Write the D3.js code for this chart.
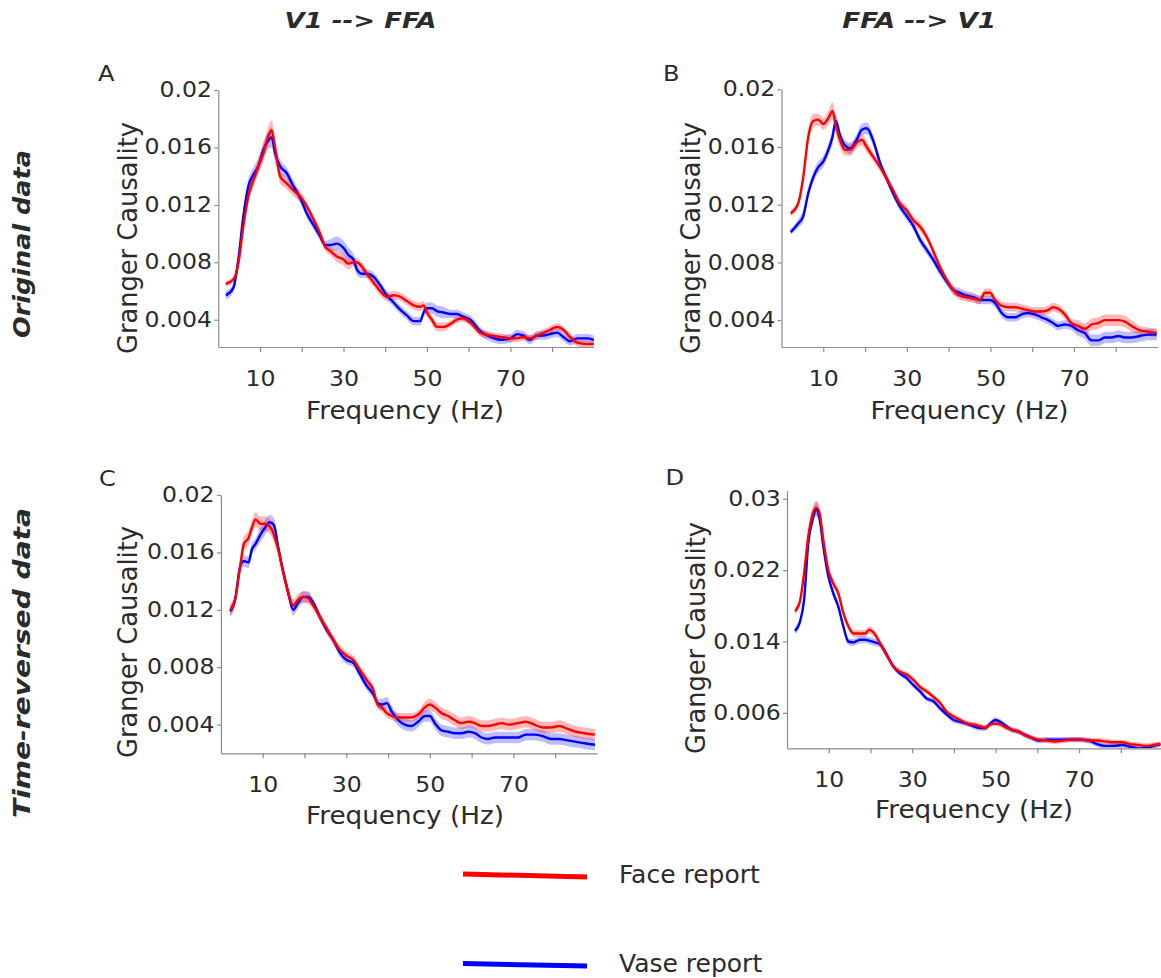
<!DOCTYPE html>
<html>
<head>
<meta charset="utf-8">
<script src="https://cdn.jsdelivr.net/npm/d3@7"></script>
<style>
  html, body { margin: 0; padding: 0; background: #fff; }
  svg { display: block; }
</style>
</head>
<body>
<script>
// ---------------- DATA ----------------
const columnTitles = ["V1 --> FFA", "FFA --> V1"];
const rowTitles = ["Original data", "Time-reversed data"];
const panelLetters = ["A", "B", "C", "D"];
const legendLabels = ["Face report", "Vase report"];
const xAxisTitle = "Frequency (Hz)";
const yAxisTitle = "Granger Causality";

const xTicks = [10, 20, 30, 40, 50, 60, 70, 80];
const xTickLabels = ["10", "", "30", "", "50", "", "70", ""];
const yTicksABC = [0.004, 0.008, 0.012, 0.016, 0.02];
const yTickLabelsABC = ["0.004", "0.008", "0.012", "0.016", "0.02"];
const yTicksD = [0.006, 0.014, 0.022, 0.03];
const yTickLabelsD = ["0.006", "0.014", "0.022", "0.03"];

// Panel A : V1 --> FFA, original
const freqA = [1.8,3.6,4.8,6,7.2,8.4,9.6,10.8,12,12.8,
  13.6,14.8,16.4,18,19.6,21.2,22.8,24.4,25.6,26.8,
  28.4,30,31.2,32.4,33.2,34.4,35.6,37.2,38.8,40.4,
  42,43.6,45.2,46.8,48.4,49.2,50,51.2,52.4,54,
  55.6,57.2,58.8,60.4,62.8,65.2,67.6,70,71.6,73.1,
  74.7,76.4,78,79.5,81.2,82.7,84.3,86,88.3,90];
const faceA = [.0065,.0068,.0079,.0105,.0126,.0137,.0147,.0156,.0168,.0172,
  .0160,.0140,.0135,.0130,.0126,.0119,.0110,.0100,.0091,.0088,
  .0084,.0082,.0079,.0080,.0080,.0077,.0072,.0066,.0060,.0056,
  .0057,.0056,.0053,.0050,.0049,.0050,.0045,.0040,.0035,.0035,
  .0037,.0040,.0041,.0038,.0031,.0029,.0028,.0027,.0027,.0028,
  .0027,.0029,.0031,.0033,.0035,.0033,.0028,.0024,.0023,.0023];
const vaseA = [.0057,.0062,.0082,.0112,.0133,.0141,.0147,.0158,.0165,.0167,
  .0156,.0147,.0142,.0133,.0125,.0114,.0106,.0098,.0092,.0092,
  .0093,.0090,.0085,.0082,.0075,.0072,.0072,.0070,.0064,.0057,
  .0052,.0047,.0043,.0039,.0039,.0045,.0048,.0048,.0046,.0045,
  .0044,.0044,.0042,.0040,.0032,.0028,.0026,.0027,.0030,.0029,
  .0026,.0029,.0029,.0030,.0031,.0028,.0025,.0027,.0027,.0026];
const semFaceA = [.0002,.0002,.0003,.0004,.0005,.0005,.0005,.0006,.0007,.0007,
  .0006,.0005,.0004,.0004,.0004,.0003,.0003,.0003,.0003,.0003,
  .0004,.0004,.0004,.0003,.0003,.0003,.0003,.0003,.0003,.0003,
  .0003,.0003,.0003,.0003,.0003,.0003,.0003,.0003,.0003,.0003,
  .00025,.00025,.00025,.00025,.00025,.00025,.00025,.00025,.00025,.00025,
  .00025,.00025,.00025,.00025,.00025,.00025,.00025,.00025,.00025,.00025];
const semVaseA = [.0003,.0003,.0003,.0004,.0005,.0005,.0006,.0006,.0006,.0007,
  .0006,.0005,.0004,.0004,.0003,.0003,.0003,.0003,.0003,.0004,
  .0005,.0005,.0005,.0004,.0004,.0003,.0003,.0003,.0003,.0003,
  .0003,.0003,.0003,.0003,.0003,.0003,.0004,.0004,.0004,.0004,
  .0003,.0003,.0003,.0003,.0003,.0003,.0003,.0003,.0003,.0003,
  .0003,.0003,.0003,.0003,.0003,.0003,.0003,.0003,.0003,.0003];

// Panel B : FFA --> V1, original
const freqB = [2.2,4,5.2,6.4,7.6,8.8,10,11.2,12.2,13,
  14,15.2,16.4,18,19.2,20.4,22,23.6,25.2,26.7,
  28.3,30,31.6,33.1,34.7,36.3,37.9,39.5,41.1,42.7,
  44.3,45.9,47.5,48.7,49.9,51.1,52.7,54.3,55.9,57.5,
  59,60.6,62.2,63.8,65,66.2,67.8,69.4,71,72.6,
  74.2,75.8,77.4,79,80.6,82.2,83.8,85.8,87.8,89.8];
const faceB = [.0114,.0121,.0139,.0167,.0178,.0179,.0176,.0180,.0185,.0175,
  .0165,.0158,.0158,.0163,.0165,.0160,.0153,.0146,.0138,.0130,
  .0121,.0116,.0109,.0105,.0098,.0088,.0077,.0068,.0061,.0057,
  .0056,.0055,.0054,.0059,.0059,.0054,.0050,.0049,.0049,.0048,
  .0047,.0046,.0046,.0047,.0049,.0048,.0044,.0038,.0036,.0034,
  .0037,.0038,.0040,.0040,.0040,.0039,.0036,.0033,.0032,.0031];
const vaseB = [.0101,.0107,.0112,.0128,.0139,.0146,.0150,.0158,.0167,.0178,
  .0168,.0161,.0159,.0165,.0172,.0173,.0164,.0149,.0138,.0128,
  .0119,.0112,.0105,.0096,.0089,.0082,.0074,.0067,.0061,.0059,
  .0057,.0056,.0054,.0054,.0054,.0052,.0045,.0042,.0042,.0044,
  .0045,.0044,.0042,.0040,.0038,.0036,.0037,.0036,.0033,.0031,
  .0026,.0026,.0028,.0028,.0029,.0028,.0028,.0029,.0030,.0030];
const semFaceB = [.0002,.0003,.0004,.0005,.0005,.0004,.0004,.0005,.0006,.0006,
  .0005,.0004,.0004,.0004,.0004,.0004,.0003,.0003,.0003,.0003,
  .0003,.0003,.0003,.0003,.0003,.0003,.0003,.0003,.0003,.0003,
  .0003,.0003,.0003,.0003,.0003,.0003,.0003,.0003,.0003,.0003,
  .0003,.0003,.0003,.0003,.0003,.0003,.0003,.0003,.0004,.0004,
  .0004,.0004,.0004,.0004,.0004,.0004,.0004,.0003,.0003,.0003];
const semVaseB = [.0002,.0003,.0004,.0004,.0004,.0004,.0004,.0004,.0005,.0005,
  .0004,.0004,.0004,.0004,.0004,.0004,.0004,.0003,.0003,.0003,
  .0003,.0003,.0003,.0003,.0003,.0003,.0003,.0003,.0003,.0003,
  .0003,.0003,.0003,.0003,.0003,.0003,.0003,.0003,.0003,.0003,
  .0003,.0003,.0003,.0003,.0003,.0003,.0003,.0003,.0004,.0004,
  .0004,.0004,.0004,.0004,.0004,.0004,.0004,.0004,.0004,.0004];

// Panel C : V1 --> FFA, time-reversed
const freqC = [2.2,3.4,4.6,5.5,6.6,7.4,8.3,9.4,10.5,11.7,
  12.7,13.7,14.9,16.1,17.3,18.5,19.7,20.9,22.1,23.7,
  25.3,26.9,28.5,30.1,31.7,33.3,34.9,36.5,37.5,38.5,
  39.7,40.9,42.5,44,45.6,47.2,48.8,50,51.2,52.8,
  54.4,56,57.6,59.2,60.8,62.4,64,65.6,67.2,68.8,
  71,73,75,77,79,81,83,85,87,89.5];
const faceC = [.0120,.0127,.0150,.0166,.0170,.0177,.0183,.0180,.0180,.0178,
  .0172,.0162,.0146,.0132,.0123,.0127,.0129,.0128,.0123,.0115,
  .0107,.0099,.0092,.0088,.0085,.0078,.0071,.0064,.0054,.0052,
  .0048,.0046,.0045,.0045,.0045,.0047,.0052,.0054,.0052,.0048,
  .0046,.0043,.0041,.0042,.0041,.0039,.0039,.0040,.0041,.0040,
  .0041,.0042,.0040,.0038,.0038,.0039,.0037,.0035,.0034,.0033];
const vaseC = [.0119,.0127,.0150,.0154,.0153,.0162,.0166,.0172,.0177,.0181,
  .0179,.0164,.0147,.0132,.0120,.0125,.0129,.0129,.0125,.0115,
  .0106,.0099,.0090,.0085,.0083,.0075,.0067,.0061,.0055,.0054,
  .0055,.0049,.0043,.0040,.0039,.0042,.0046,.0046,.0041,.0036,
  .0035,.0034,.0034,.0035,.0034,.0031,.0030,.0031,.0031,.0031,
  .0031,.0033,.0033,.0032,.0030,.0030,.0029,.0028,.0027,.0026];
const semFaceC = [.0004,.0004,.0005,.0005,.0005,.0005,.0005,.0005,.0005,.0005,
  .0005,.0004,.0004,.0004,.0004,.0004,.0004,.0004,.0003,.0003,
  .0003,.0003,.0003,.0003,.0003,.0003,.0003,.0003,.0003,.0003,
  .0003,.0003,.0003,.0003,.0003,.0003,.0004,.0004,.0004,.0004,
  .0004,.0004,.0004,.0004,.0004,.0004,.0004,.0004,.0004,.0004,
  .0004,.0004,.0004,.0004,.0004,.0004,.0004,.0004,.0004,.0004];
const semVaseC = [.0004,.0004,.0004,.0004,.0004,.0004,.0004,.0005,.0005,.0005,
  .0005,.0004,.0004,.0004,.0004,.0004,.0004,.0004,.0003,.0003,
  .0003,.0003,.0003,.0003,.0003,.0003,.0003,.0003,.0003,.0004,
  .0004,.0004,.0004,.0004,.0004,.0004,.0004,.0004,.0004,.0004,
  .0004,.0004,.0004,.0004,.0004,.0004,.0004,.0004,.0004,.0004,
  .0004,.0004,.0004,.0004,.0004,.0004,.0004,.0004,.0004,.0004];

// Panel D : FFA --> V1, time-reversed
const freqD = [1.9,3.1,4.1,5.1,6.2,7,7.8,8.7,9.9,11.1,
  12.3,13.5,14.7,15.9,17.5,18.7,19.7,21.1,22.3,23.9,
  25.5,27.1,28.7,30.3,31.9,33.5,35.1,36.7,38.3,39.9,
  41.5,43.1,44.7,46.3,47.5,48.7,49.9,51.1,52.3,53.9,
  55.5,57.1,58.7,60.3,62.3,64.3,66.3,68.3,70.3,72.3,
  74.3,76.3,78.3,80.3,82.3,84.3,86.3,87.9,89.5];
const faceD = [.0174,.0185,.0217,.0258,.0284,.0290,.0284,.0254,.0220,.0205,
  .0194,.0172,.0157,.0149,.0149,.0149,.0153,.0148,.0138,.0125,
  .0112,.0106,.0103,.0097,.0089,.0084,.0078,.0071,.0061,.0056,
  .0052,.0048,.0047,.0045,.0043,.0047,.0048,.0047,.0044,.0041,
  .0039,.0035,.0032,.0030,.0029,.0028,.0029,.0030,.0030,.0029,
  .0029,.0028,.0027,.0027,.0025,.0024,.0023,.0024,.0025];
const vaseD = [.0152,.0162,.0187,.0250,.0278,.0288,.0278,.0247,.0213,.0194,
  .0179,.0157,.0140,.0139,.0142,.0142,.0141,.0139,.0137,.0125,
  .0112,.0104,.0099,.0091,.0084,.0076,.0073,.0065,.0058,.0052,
  .0050,.0048,.0045,.0043,.0043,.0048,.0052,.0050,.0046,.0041,
  .0039,.0035,.0032,.0029,.0030,.0030,.0030,.0030,.0030,.0029,
  .0025,.0023,.0023,.0024,.0022,.0020,.0021,.0023,.0025];
const semFaceD = [.0004,.0004,.0005,.0006,.0007,.0008,.0007,.0006,.0005,.0005,
  .0004,.0004,.0004,.0004,.0004,.0004,.0004,.0004,.0004,.0004,
  .0003,.0003,.0003,.0003,.0003,.0003,.0003,.0003,.0003,.0003,
  .0003,.0003,.0003,.0003,.0003,.0003,.0003,.0003,.0003,.0003,
  .0003,.0003,.0003,.0003,.0003,.0003,.0003,.0003,.0003,.0003,
  .0003,.0003,.0003,.0003,.0003,.0003,.0003,.0003,.0003];
const semVaseD = [.0004,.0004,.0005,.0006,.0007,.0008,.0007,.0006,.0005,.0005,
  .0004,.0004,.0004,.0004,.0004,.0004,.0004,.0004,.0004,.0004,
  .0003,.0003,.0003,.0003,.0003,.0003,.0003,.0003,.0003,.0003,
  .0003,.0003,.0003,.0003,.0003,.0003,.0003,.0003,.0003,.0003,
  .0003,.0003,.0003,.0003,.0003,.0003,.0003,.0003,.0003,.0003,
  .0003,.0003,.0003,.0003,.0003,.0003,.0003,.0003,.0003];

const seriesColors = ["#ff0000", "#0000ff"];          // Face, Vase
const bandColors = ["rgba(255,0,0,0.28)", "rgba(0,0,255,0.26)"];

// ---------------- LAYOUT ----------------
const W = 1161, H = 978;
const FONT = "'DejaVu Sans', Verdana, sans-serif";
const TEXT = "#2b2b2b";
const AXIS = "#8c8c8c";

const panels = [
  { letter: panelLetters[0], freq: freqA, face: faceA, vase: vaseA, semF: semFaceA, semV: semVaseA,
    yDomain: [0.0021, 0.02], yTicks: yTicksABC, yLabels: yTickLabelsABC,
    x0: 218.3, x1: 593.8, yTop: 90, yBot: 347,
    letterPos: [98, 81], ylab: [137, 238], xlab: [405, 419.3] },
  { letter: panelLetters[1], freq: freqB, face: faceB, vase: vaseB, semF: semFaceB, semV: semVaseB,
    yDomain: [0.00214, 0.02], yTicks: yTicksABC, yLabels: yTickLabelsABC,
    x0: 781.5, x1: 1157.5, yTop: 89.3, yBot: 347,
    letterPos: [663, 81], ylab: [699.5, 238], xlab: [969.5, 419.3] },
  { letter: panelLetters[2], freq: freqC, face: faceC, vase: vaseC, semF: semFaceC, semV: semVaseC,
    yDomain: [0.002, 0.02], yTicks: yTicksABC, yLabels: yTickLabelsABC,
    x0: 220.9, x1: 597, yTop: 495, yBot: 753.3,
    letterPos: [99, 486], ylab: [137, 642], xlab: [405, 824.3] },
  { letter: panelLetters[3], freq: freqD, face: faceD, vase: vaseD, semF: semFaceD, semV: semVaseD,
    yDomain: [0.00203, 0.0309], yTicks: yTicksD, yLabels: yTickLabelsD,
    x0: 787, x1: 1162.5, yTop: 490.7, yBot: 748.3,
    letterPos: [665.5, 485], ylab: [705, 638], xlab: [974, 818.3] }
];

const svg = d3.select("body").append("svg")
  .attr("width", W).attr("height", H)
  .attr("font-family", FONT);

// Column titles
const titleX = [360.5, 919.2];
columnTitles.forEach((t, i) => {
  svg.append("text")
    .attr("x", titleX[i]).attr("y", 28.3)
    .attr("text-anchor", "middle")
    .attr("font-size", 21.5).attr("font-weight", "bold").attr("font-style", "italic")
    .attr("fill", TEXT)
    .attr("textLength", i === 0 ? 152 : 154).attr("lengthAdjust", "spacingAndGlyphs")
    .text(t);
});

// Row titles
const rowY = [244, 663];
const rowLen = [188, 310];
rowTitles.forEach((t, i) => {
  svg.append("text")
    .attr("transform", `translate(30,${rowY[i]}) rotate(-90)`)
    .attr("text-anchor", "middle")
    .attr("font-size", 23).attr("font-weight", "bold").attr("font-style", "italic")
    .attr("fill", TEXT)
    .attr("textLength", rowLen[i]).attr("lengthAdjust", "spacingAndGlyphs")
    .text(t);
});

panels.forEach((p, pi) => {
  const x = d3.scaleLinear().domain([0, 90]).range([p.x0, p.x1]);
  const y = d3.scaleLinear().domain(p.yDomain).range([p.yBot, p.yTop]);
  const g = svg.append("g");

  const clipId = "clip" + pi;
  svg.append("clipPath").attr("id", clipId)
    .append("rect")
    .attr("x", p.x0).attr("y", p.yTop - 20)
    .attr("width", p.x1 - p.x0 + 4).attr("height", p.yBot - p.yTop + 20);

  const plot = g.append("g").attr("clip-path", `url(#${clipId})`);

  const seriesList = [
    { m: p.face, s: p.semF, color: seriesColors[0], band: bandColors[0] },
    { m: p.vase, s: p.semV, color: seriesColors[1], band: bandColors[1] }
  ];
  const rows = seriesList.map(sr => p.freq.map((f, k) => ({ f, m: sr.m[k], s: sr.s[k] })));

  const area = d3.area()
    .x(d => x(d.f)).y0(d => y(d.m - d.s)).y1(d => y(d.m + d.s))
    .curve(d3.curveMonotoneX);
  const line = d3.line().x(d => x(d.f)).y(d => y(d.m)).curve(d3.curveMonotoneX);

  // bands: vase then face
  [1, 0].forEach(k => {
    plot.append("path").attr("d", area(rows[k]))
      .attr("fill", seriesList[k].band).attr("stroke", "none");
  });
  [1, 0].forEach(k => {
    plot.append("path").attr("d", line(rows[k]))
      .attr("fill", "none").attr("stroke", seriesList[k].color)
      .attr("stroke-width", 2.4).attr("stroke-linejoin", "round");
  });

  // Axes
  const yAxis = d3.axisLeft(y).tickValues(p.yTicks)
    .tickFormat((d, i) => p.yLabels[i]).tickSize(4).tickSizeOuter(0);
  const gy = g.append("g").attr("transform", `translate(${p.x0},0)`).call(yAxis);
  gy.select(".domain").attr("stroke", AXIS).attr("stroke-width", 1.2);
  gy.selectAll(".tick line").attr("stroke", AXIS).attr("stroke-width", 1.2);
  gy.selectAll(".tick text")
    .attr("font-family", FONT).attr("font-size", 20.5).attr("fill", TEXT)
    .attr("x", -5.5).attr("transform", "scale(1.15,1)");

  const xAxis = d3.axisBottom(x).tickValues(xTicks)
    .tickFormat((d, i) => xTickLabels[i]).tickSize(5).tickSizeOuter(0);
  const gx = g.append("g").attr("transform", `translate(0,${p.yBot})`).call(xAxis);
  gx.select(".domain").attr("stroke", AXIS).attr("stroke-width", 1.2);
  gx.selectAll(".tick line").attr("stroke", AXIS).attr("stroke-width", 1.2);
  gx.selectAll(".tick text")
    .attr("font-family", FONT).attr("font-size", 20.5).attr("fill", TEXT)
    .attr("y", 39).attr("dy", 0).attr("transform", "scale(1.15,1)");

  // Axis titles
  g.append("text")
    .attr("x", p.xlab[0]).attr("y", p.xlab[1])
    .attr("text-anchor", "middle").attr("font-size", 24).attr("fill", TEXT)
    .attr("textLength", 198).attr("lengthAdjust", "spacingAndGlyphs")
    .text(xAxisTitle);
  g.append("text")
    .attr("transform", `translate(${p.ylab[0]},${p.ylab[1]}) scale(1.12,1) rotate(-90)`)
    .attr("text-anchor", "middle").attr("font-size", 24).attr("fill", TEXT)
    .attr("textLength", 232).attr("lengthAdjust", "spacingAndGlyphs")
    .text(yAxisTitle);

  // Panel letter
  g.append("text")
    .attr("transform", `translate(${p.letterPos[0]},${p.letterPos[1]}) scale(1.15,1)`)
    .attr("font-size", 21).attr("fill", TEXT)
    .text(p.letter);
});

// Legend
const legendY = [[874, 877], [963.5, 966]];
const legendTextY = [883, 972];
legendLabels.forEach((lab, i) => {
  svg.append("line")
    .attr("x1", 463).attr("x2", 587)
    .attr("y1", legendY[i][0]).attr("y2", legendY[i][1])
    .attr("stroke", seriesColors[i]).attr("stroke-width", 5);
  svg.append("text")
    .attr("x", 619).attr("y", legendTextY[i])
    .attr("font-size", 25).attr("fill", TEXT)
    .text(lab);
});
</script>
</body>
</html>
